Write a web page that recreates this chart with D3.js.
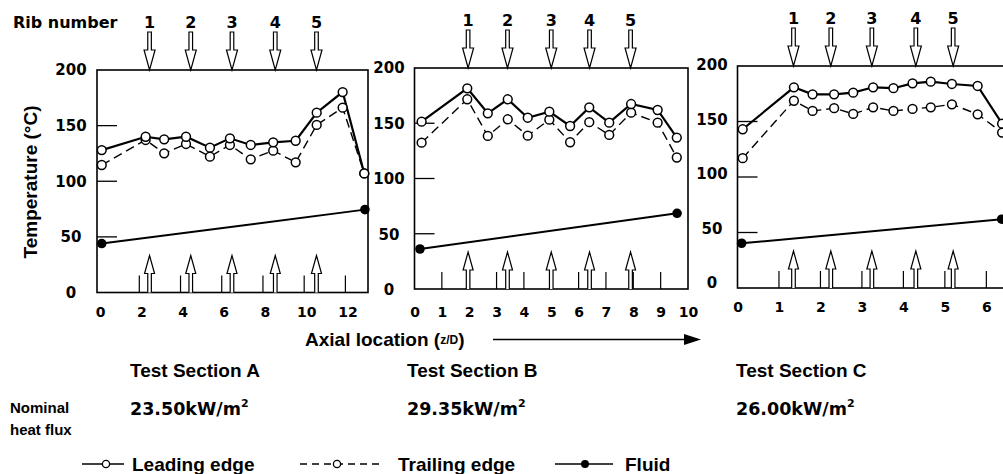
<!DOCTYPE html>
<html><head><meta charset="utf-8">
<script src="https://cdn.jsdelivr.net/npm/d3@7"></script>
<style>
body{margin:0;background:#fff;}
svg{display:block;}
.num{font-family:"DejaVu Sans",sans-serif;font-weight:bold;fill:#000;}
.txt{font-family:"Liberation Sans",Arial,sans-serif;font-weight:bold;fill:#000;}
</style></head><body>
<svg id="chart" width="1003" height="474"></svg>
<script>
// ---- Test section A ----
const zA = [0.08, 2.21, 3.11, 4.17, 5.33, 6.30, 7.31, 8.40, 9.49, 10.51, 11.77, 12.82];
const leadA = [128, 140, 137.7, 140, 130.2, 138.6, 132.6, 135, 136.4, 161.6, 180.2, 107];
const trailA = [114.6, 137.1, 125.1, 133.5, 122.1, 132.6, 119.7, 127.5, 117, 150.6, 166.1, 107];
const fluidZA = [0.08, 12.85];
const fluidA = [44, 74.5];
const ribsA = [2.4, 4.4, 6.4, 8.5, 10.5];
const xTicksA = [0, 2, 4, 6, 8, 10, 12];
const minorA = [2, 4, 6, 8, 10, 12];

// ---- Test section B ----
const zB = [0.26, 1.93, 2.68, 3.41, 4.14, 4.93, 5.69, 6.39, 7.12, 7.92, 8.89, 9.59];
const leadB = [151.4, 181.6, 159, 171.7, 155, 160.5, 147.5, 164.4, 150.5, 167.4, 162, 137];
const trailB = [132.4, 171.7, 138.5, 153.6, 138.8, 153.2, 132.8, 151, 139.4, 159.6, 150.5, 119];
const fluidZB = [0.2, 9.6];
const fluidB = [36.2, 68.5];
const ribsB = [1.96, 3.4, 5.0, 6.4, 7.9];
const xTicksB = [0, 1, 2, 3, 4, 5, 6, 7, 8, 9, 10];
const minorB = [1, 2, 3, 4, 5, 6, 7, 8, 9];

// ---- Test section C ----
const zC = [0.125, 1.36, 1.81, 2.33, 2.79, 3.27, 3.76, 4.22, 4.66, 5.17, 5.79, 6.38];
const leadC = [143, 180.8, 174.5, 174.5, 176, 180.8, 180, 184.4, 185.9, 183.8, 182, 148];
const trailC = [117, 168.7, 159.5, 162, 156.8, 162.8, 159.5, 161.3, 162.8, 165.5, 156.5, 140];
const fluidZC = [0.1, 6.37];
const fluidC = [40.3, 62];
const ribsC = [1.35, 2.25, 3.24, 4.3, 5.2];
const xTicksC = [0, 1, 2, 3, 4, 5, 6];
const minorC = [1, 2, 3, 4, 5, 6];

const yTicks = [0, 50, 100, 150, 200];
const yInner = [50, 100, 150];
const ribNumbers = ["1", "2", "3", "4", "5"];
const sectionNames = ["Test Section A", "Test Section B", "Test Section C"];
const heatFlux = ["23.50", "29.35", "26.00"];

const svg = d3.select("#chart");

const panels = [
  {z: zA, lead: leadA, trail: trailA, fz: fluidZA, fl: fluidA, ribs: ribsA, ticks: xTicksA, minor: minorA,
   xDomain: [-0.15, 13.0], xRange: [97, 368], yRange: [292.5, 70], labelRange: [292.5, 70],
   yLabelX: 71, xLabelDy: 20, textX: 130},
  {z: zB, lead: leadB, trail: trailB, fz: fluidZB, fl: fluidB, ribs: ribsB, ticks: xTicksB, minor: minorB,
   xDomain: [0, 10], xRange: [414.5, 688], yRange: [289, 68], labelRange: [290, 68],
   yLabelX: 389, xLabelDy: 23, textX: 407},
  {z: zC, lead: leadC, trail: trailC, fz: fluidZC, fl: fluidC, ribs: ribsC, ticks: xTicksC, minor: minorC,
   xDomain: [0, 6.45], xRange: [737.5, 1005], yRange: [288, 66], labelRange: [283, 65],
   yLabelX: 712, xLabelDy: 19, textX: 736}
];

panels.forEach((p, i) => {
  const x = d3.scaleLinear().domain(p.xDomain).range(p.xRange);
  const y = d3.scaleLinear().domain([0, 200]).range(p.yRange);
  const yLab = d3.scaleLinear().domain([0, 200]).range(p.labelRange);
  const g = svg.append("g");
  const x0 = p.xRange[0], x1 = p.xRange[1];
  const yb = y(0), yt = y(200);

  // frame
  g.append("rect").attr("x", x0).attr("y", yt).attr("width", x1 - x0).attr("height", yb - yt)
    .attr("fill", "none").attr("stroke", "#000").attr("stroke-width", 1.6);

  // short inner ticks on the temperature axis
  g.selectAll(".yin").data(yInner).join("line")
    .attr("x1", x0).attr("x2", x0 + 20).attr("y1", d => y(d)).attr("y2", d => y(d))
    .attr("stroke", "#000").attr("stroke-width", 1.3);

  // short inner ticks along the bottom
  g.selectAll(".xin").data(p.minor).join("line")
    .attr("x1", d => x(d) + (i === 0 ? -2 : 0)).attr("x2", d => x(d) + (i === 0 ? -2 : 0))
    .attr("y1", yb).attr("y2", yb - 17)
    .attr("stroke", "#000").attr("stroke-width", 1.2);

  // axial location labels
  const ax = g.append("g").attr("transform", `translate(0,${yb})`)
    .call(d3.axisBottom(x).tickValues(p.ticks).tickSize(0).tickFormat(d3.format("d")));
  ax.select(".domain").remove();
  ax.selectAll("text").attr("class", "num").style("font-size", "14px").attr("dy", "0.35em").attr("y", p.xLabelDy);

  // temperature labels
  const ay = g.append("g").attr("transform", `translate(${p.yLabelX},0)`)
    .call(d3.axisLeft(yLab).tickValues(yTicks).tickSize(0).tickPadding(0));
  ay.select(".domain").remove();
  ay.selectAll("text").attr("class", "num").style("font-size", "15px").attr("text-anchor", "middle").attr("x", 0);

  // rib arrows from above
  const ribG = g.selectAll(".ribTop").data(p.ribs).join("g")
    .attr("transform", d => `translate(${x(d)},${yt})`);
  ribG.append("path")
    .attr("d", "M-1.8,-38 L1.8,-38 L1.8,-20 L5.5,-20 L0,0 L-5.5,-20 L-1.8,-20 Z")
    .attr("fill", "#fff").attr("stroke", "#000").attr("stroke-width", 1.2);
  ribG.append("text").attr("class", "num").style("font-size", "16px")
    .attr("text-anchor", "middle").attr("y", -42)
    .text((d, k) => ribNumbers[k]);

  // rib arrows from below
  g.selectAll(".ribBot").data(p.ribs).join("path")
    .attr("transform", d => `translate(${x(d)},${yb})`)
    .attr("d", "M-1.8,0 L-1.8,-19 L-5,-19 L0,-37 L5,-19 L1.8,-19 L1.8,0")
    .attr("fill", "#fff").attr("stroke", "#000").attr("stroke-width", 1.2);

  // fluid temperature
  const fluidPts = p.fz.map((z, k) => [z, p.fl[k]]);
  g.append("path").datum(fluidPts)
    .attr("d", d3.line().x(d => x(d[0])).y(d => y(d[1])))
    .attr("fill", "none").attr("stroke", "#000").attr("stroke-width", 2);
  g.selectAll(".fdot").data(fluidPts).join("circle")
    .attr("cx", d => x(d[0])).attr("cy", d => y(d[1])).attr("r", 4.8).attr("fill", "#000");

  // trailing edge (dashed) and leading edge (solid)
  const trailPts = p.z.map((z, k) => [z, p.trail[k]]);
  const leadPts = p.z.map((z, k) => [z, p.lead[k]]);
  const line = d3.line().x(d => x(d[0])).y(d => y(d[1]));
  g.append("path").datum(trailPts).attr("d", line)
    .attr("fill", "none").attr("stroke", "#000").attr("stroke-width", 1.4).attr("stroke-dasharray", "9,5");
  g.append("path").datum(leadPts).attr("d", line)
    .attr("fill", "none").attr("stroke", "#000").attr("stroke-width", 2.2);
  g.selectAll(".tc").data(trailPts).join("circle")
    .attr("cx", d => x(d[0])).attr("cy", d => y(d[1])).attr("r", 4.4)
    .attr("fill", "#fff").attr("stroke", "#000").attr("stroke-width", 1.5);
  g.selectAll(".lc").data(leadPts).join("circle")
    .attr("cx", d => x(d[0])).attr("cy", d => y(d[1])).attr("r", 4.4)
    .attr("fill", "#fff").attr("stroke", "#000").attr("stroke-width", 1.5);

  // section caption and heat flux
  svg.append("text").attr("class", "txt").style("font-size", "19px")
    .attr("x", p.textX).attr("y", 377).text(sectionNames[i]);
  const hf = svg.append("text").attr("class", "num").style("font-size", "17.5px")
    .attr("x", p.textX).attr("y", 415);
  hf.append("tspan").text(heatFlux[i] + "kW/m");
  hf.append("tspan").attr("dy", -8).style("font-size", "11px").text("2");
});

// left-hand titles
svg.append("text").attr("class", "num").style("font-size", "16px")
  .attr("x", 13).attr("y", 28).text("Rib number");
svg.append("text").attr("class", "txt").style("font-size", "19px")
  .attr("text-anchor", "middle")
  .attr("transform", "translate(37,182) rotate(-90)")
  .text("Temperature (°C)");

// axial location caption with arrow
const axial = svg.append("text").attr("class", "txt").style("font-size", "19px")
  .attr("x", 305).attr("y", 346);
axial.append("tspan").text("Axial location (");
axial.append("tspan").style("font-size", "12px").attr("dy", -2).text("z/D");
axial.append("tspan").attr("dy", 2).text(")");
svg.append("line").attr("x1", 493).attr("x2", 688).attr("y1", 339.5).attr("y2", 339.5)
  .attr("stroke", "#000").attr("stroke-width", 1.4);
svg.append("path").attr("d", "M684,334 L701,339.5 L684,345 Z").attr("fill", "#000");

// heat flux caption
svg.append("text").attr("class", "txt").style("font-size", "15px").attr("x", 10).attr("y", 413).text("Nominal");
svg.append("text").attr("class", "txt").style("font-size", "15px").attr("x", 10).attr("y", 435).text("heat flux");

// legend
const ly = 464;
const legend = svg.append("g");
legend.append("line").attr("x1", 82).attr("x2", 124).attr("y1", ly).attr("y2", ly).attr("stroke", "#000").attr("stroke-width", 1.6);
legend.append("circle").attr("cx", 106).attr("cy", ly).attr("r", 3.6).attr("fill", "#fff").attr("stroke", "#000").attr("stroke-width", 1.3);
legend.append("text").attr("class", "txt").style("font-size", "19px").attr("x", 132).attr("y", ly + 7).text("Leading edge");
legend.append("line").attr("x1", 300).attr("x2", 382).attr("y1", ly).attr("y2", ly).attr("stroke", "#000").attr("stroke-width", 1.3).attr("stroke-dasharray", "7,5");
legend.append("circle").attr("cx", 337).attr("cy", ly).attr("r", 3.6).attr("fill", "#fff").attr("stroke", "#000").attr("stroke-width", 1.3);
legend.append("text").attr("class", "txt").style("font-size", "19px").attr("x", 398).attr("y", ly + 7).text("Trailing edge");
legend.append("line").attr("x1", 555).attr("x2", 613).attr("y1", ly).attr("y2", ly).attr("stroke", "#000").attr("stroke-width", 1.6);
legend.append("circle").attr("cx", 585).attr("cy", ly).attr("r", 4).attr("fill", "#000");
legend.append("text").attr("class", "txt").style("font-size", "19px").attr("x", 625).attr("y", ly + 7).text("Fluid");
</script>
</body></html>
